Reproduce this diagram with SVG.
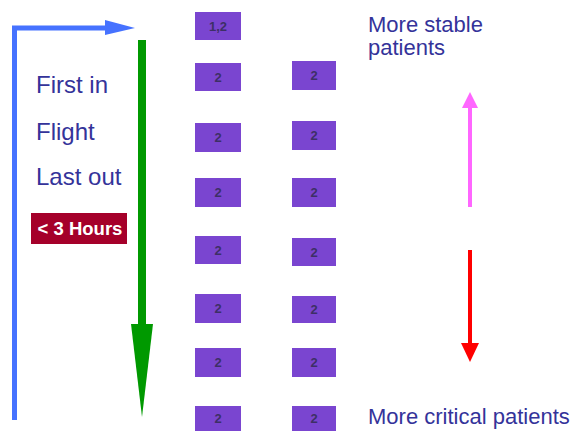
<svg xmlns="http://www.w3.org/2000/svg" width="577" height="431" viewBox="0 0 577 431">
<style>
.lbl{font-family:"Liberation Sans",Arial,sans-serif;fill:#34339a}
.box{fill:#7a45d0}
.num{font-family:"Liberation Sans",Arial,sans-serif;font-size:13px;font-weight:bold;fill:#3d2f66;text-anchor:middle}
</style>
<rect width="577" height="431" fill="#fff"/>
<g id="connectors">
<polyline points="14.5,420 14.5,28 108,28" fill="none" stroke="#4672ff" stroke-width="5"/>
<polygon points="105,20 135,28 105,35" fill="#4672ff"/>
<line x1="142" y1="40" x2="142" y2="326" stroke="#009900" stroke-width="8"/>
<polygon points="131,324 153,324 142,417" fill="#009900"/>
<line x1="470" y1="207" x2="470" y2="106" stroke="#ff66ff" stroke-width="4"/>
<polygon points="462,108 478,108 470,92" fill="#ff66ff"/>
<line x1="470" y1="250" x2="470" y2="346" stroke="#ff0000" stroke-width="4"/>
<polygon points="461,343 479,343 470,362" fill="#ff0000"/>
</g>
<g id="text-left">
<text class="lbl" x="36" y="93" font-size="24">First in</text>
<text class="lbl" x="36" y="140" font-size="24">Flight</text>
<text class="lbl" x="36" y="185" font-size="24">Last out</text>
</g>
<g id="hours">
<rect x="31" y="213" width="96" height="31" fill="#a5002a"/>
<text x="80" y="235" font-family="Liberation Sans,Arial,sans-serif" font-size="18.5" font-weight="bold" fill="#fff" text-anchor="middle">&lt; 3 Hours</text>
</g>
<g id="b1"><rect class="box" x="195" y="12" width="46" height="28"/><text class="num" x="218" y="31">1,2</text></g>
<g id="b2"><rect class="box" x="195" y="63" width="46" height="28"/><text class="num" x="218" y="82">2</text></g>
<g id="b3"><rect class="box" x="195" y="123" width="46" height="29"/><text class="num" x="218" y="142">2</text></g>
<g id="b4"><rect class="box" x="195" y="178" width="46" height="29"/><text class="num" x="218" y="197">2</text></g>
<g id="b5"><rect class="box" x="195" y="236" width="46" height="28"/><text class="num" x="218" y="255">2</text></g>
<g id="b6"><rect class="box" x="195" y="294" width="46" height="29"/><text class="num" x="218" y="313">2</text></g>
<g id="b7"><rect class="box" x="195" y="348" width="46" height="29"/><text class="num" x="218" y="367">2</text></g>
<g id="b8"><rect class="box" x="195" y="406" width="46" height="25"/><text class="num" x="218" y="423">2</text></g>
<g id="c2"><rect class="box" x="292" y="61" width="44" height="29"/><text class="num" x="314" y="80">2</text></g>
<g id="c3"><rect class="box" x="292" y="121" width="44" height="29"/><text class="num" x="314" y="140">2</text></g>
<g id="c4"><rect class="box" x="292" y="178" width="44" height="29"/><text class="num" x="314" y="197">2</text></g>
<g id="c5"><rect class="box" x="292" y="238" width="44" height="28"/><text class="num" x="314" y="257">2</text></g>
<g id="c6"><rect class="box" x="292" y="296" width="44" height="27"/><text class="num" x="314" y="314">2</text></g>
<g id="c7"><rect class="box" x="292" y="348" width="44" height="29"/><text class="num" x="314" y="367">2</text></g>
<g id="c8"><rect class="box" x="292" y="406" width="44" height="25"/><text class="num" x="314" y="423">2</text></g>
<g id="text-right">
<text class="lbl" x="368" y="32" font-size="22">More stable</text>
<text class="lbl" x="368" y="55" font-size="22">patients</text>
<text class="lbl" x="368" y="424" font-size="22">More critical patients</text>
</g>
</svg>
